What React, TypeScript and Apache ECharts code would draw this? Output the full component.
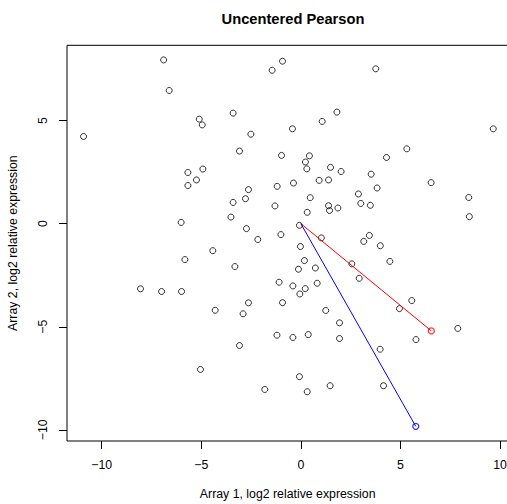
import React, { useEffect, useRef } from "react";
import * as echarts from "echarts";

const titleText = "Uncentered Pearson";
const xAxisTitle = "Array 1, log2 relative expression";
const yAxisTitle = "Array 2, log2 relative expression";

const xTicks = [-10, -5, 0, 5, 10];
const yTicks = [-10, -5, 0, 5];

const pointX = [
  -6.89, -6.61, -5.10, -4.95, -10.91, -5.67, -4.92, -0.92, -1.44, -3.40,
  1.81, 1.07, -2.51, -0.42, -3.08, -0.97, 0.43, 0.23, 0.30, 1.49,
  2.02, 3.76, 9.66, 5.32, 4.30, 3.53, -5.24, -5.67, -6.01, -4.42,
  -5.82, -8.05, -6.99, -5.99, -2.63, -1.19, -0.37, 0.92, 1.39, 2.89,
  3.01, -3.40, -2.78, 0.47, -1.30, 1.39, 1.44, 1.86, 0.32, -3.51,
  -0.07, -2.73, -1.00, 1.03, -2.16, 3.16, -0.02, 0.18, -3.31, -0.12,
  0.73, 2.56, 2.93, -1.09, -0.40, 0.22, 0.82, -0.05, -2.63, -0.92,
  6.54, 3.83, 3.49, 8.43, 8.46, 3.44, 3.99, 4.47, 5.57, -4.30,
  -5.04, -2.90, 1.25, 1.94, 1.94, -1.20, -0.40, 0.37, -3.08, -0.07,
  -1.81, 0.32, 1.47, 4.95, 7.88, 5.78, 3.98, 4.15,
];
const pointY = [
  7.94, 6.46, 5.07, 4.79, 4.23, 2.48, 2.65, 7.88, 7.44, 5.36,
  5.41, 4.96, 4.34, 4.60, 3.52, 3.31, 3.29, 2.99, 2.66, 2.73,
  2.53, 7.51, 4.60, 3.63, 3.21, 2.40, 2.12, 1.85, 0.06, -1.31,
  -1.74, -3.16, -3.29, -3.29, 1.65, 1.81, 1.97, 2.10, 2.12, 1.44,
  0.98, 1.03, 1.21, 1.26, 0.86, 0.87, 0.64, 0.76, 0.55, 0.32,
  -0.08, -0.24, -0.53, -0.69, -0.77, -0.86, -1.11, -1.79, -2.08, -2.21,
  -2.15, -1.95, -2.65, -2.84, -3.02, -3.15, -2.89, -3.41, -3.84, -3.83,
  1.99, 1.73, 0.89, 1.27, 0.34, -0.57, -1.07, -1.83, -3.73, -4.20,
  -7.07, -4.37, -4.21, -4.81, -5.57, -5.41, -5.52, -5.38, -5.91, -7.42,
  -8.04, -8.15, -7.86, -4.12, -5.08, -5.62, -6.09, -7.86,
];

const origin = [0, 0];
const redVector = [6.55, -5.2];
const blueVector = [5.77, -9.83];

const xMin = -11.74;
const xMax = 10.42;
const yMin = -10.54;
const yMax = 8.65;

const FONT = "'Liberation Sans', Arial, Helvetica, sans-serif";
const fmt = (v: number) => String(v).replace("-", "\u2212");

export default function App() {
  const ref = useRef<HTMLDivElement>(null);
  useEffect(() => {
    if (!ref.current) return;
    const chart = echarts.init(ref.current, null, { renderer: "svg" });
    const points = pointX.map((x, i) => [x, pointY[i]]);
    chart.setOption({
      animation: false,
      backgroundColor: "#ffffff",
      title: {
        text: titleText,
        left: 288,
        top: 6,
        textAlign: "center",
        textStyle: { fontFamily: FONT, fontSize: 14.7, fontWeight: "bold", color: "#000" },
      },
      grid: {
        left: 67,
        top: 45.3,
        width: 441.4,
        height: 395.7,
        show: true,
        borderColor: "#000",
        borderWidth: 1,
        backgroundColor: "transparent",
        containLabel: false,
        outerBoundsMode: "none",
      },
      xAxis: {
        type: "value",
        min: xMin,
        max: xMax,
        name: xAxisTitle,
        nameLocation: "middle",
        nameGap: 47,
        nameTextStyle: { fontFamily: FONT, fontSize: 12.3, color: "#000" },
        axisLine: { show: false, onZero: false },
        splitLine: { show: false },
        axisTick: {
          show: true,
          length: 8,
          customValues: xTicks,
          lineStyle: { color: "#000", width: 1 },
        },
        axisLabel: {
          customValues: xTicks,
          margin: 18,
          fontFamily: FONT,
          fontSize: 12.3,
          color: "#000",
          formatter: fmt,
        },
      },
      yAxis: {
        type: "value",
        min: yMin,
        max: yMax,
        name: yAxisTitle,
        nameLocation: "middle",
        nameGap: 48,
        nameRotate: 90,
        nameTextStyle: { fontFamily: FONT, fontSize: 12.3, color: "#000" },
        axisLine: { show: false, onZero: false },
        splitLine: { show: false },
        axisTick: {
          show: true,
          length: 8,
          customValues: yTicks,
          lineStyle: { color: "#000", width: 1 },
        },
        axisLabel: {
          customValues: yTicks,
          rotate: 90,
          margin: 18,
          fontFamily: FONT,
          fontSize: 12.3,
          color: "#000",
          formatter: fmt,
        },
      },
      series: [
        {
          type: "scatter",
          data: points,
          symbol: "circle",
          symbolSize: 6,
          itemStyle: { color: "transparent", borderColor: "#000", borderWidth: 1 },
          silent: true,
        },
        {
          type: "line",
          data: [origin, redVector],
          showSymbol: false,
          lineStyle: { color: "#ff0000", width: 1 },
          silent: true,
        },
        {
          type: "line",
          data: [origin, blueVector],
          showSymbol: false,
          lineStyle: { color: "#0000ff", width: 1 },
          silent: true,
        },
        {
          type: "scatter",
          data: [redVector],
          symbol: "circle",
          symbolSize: 6,
          itemStyle: { color: "transparent", borderColor: "#ff0000", borderWidth: 1.3 },
          silent: true,
        },
        {
          type: "scatter",
          data: [blueVector],
          symbol: "circle",
          symbolSize: 6,
          itemStyle: { color: "transparent", borderColor: "#0000ff", borderWidth: 1.3 },
          silent: true,
        },
      ],
    });
    return () => chart.dispose();
  }, []);
  return (
    <div
      ref={ref}
      style={{ position: "fixed", left: 0, top: 0, width: 507, height: 504, background: "#fff" }}
    />
  );
}
